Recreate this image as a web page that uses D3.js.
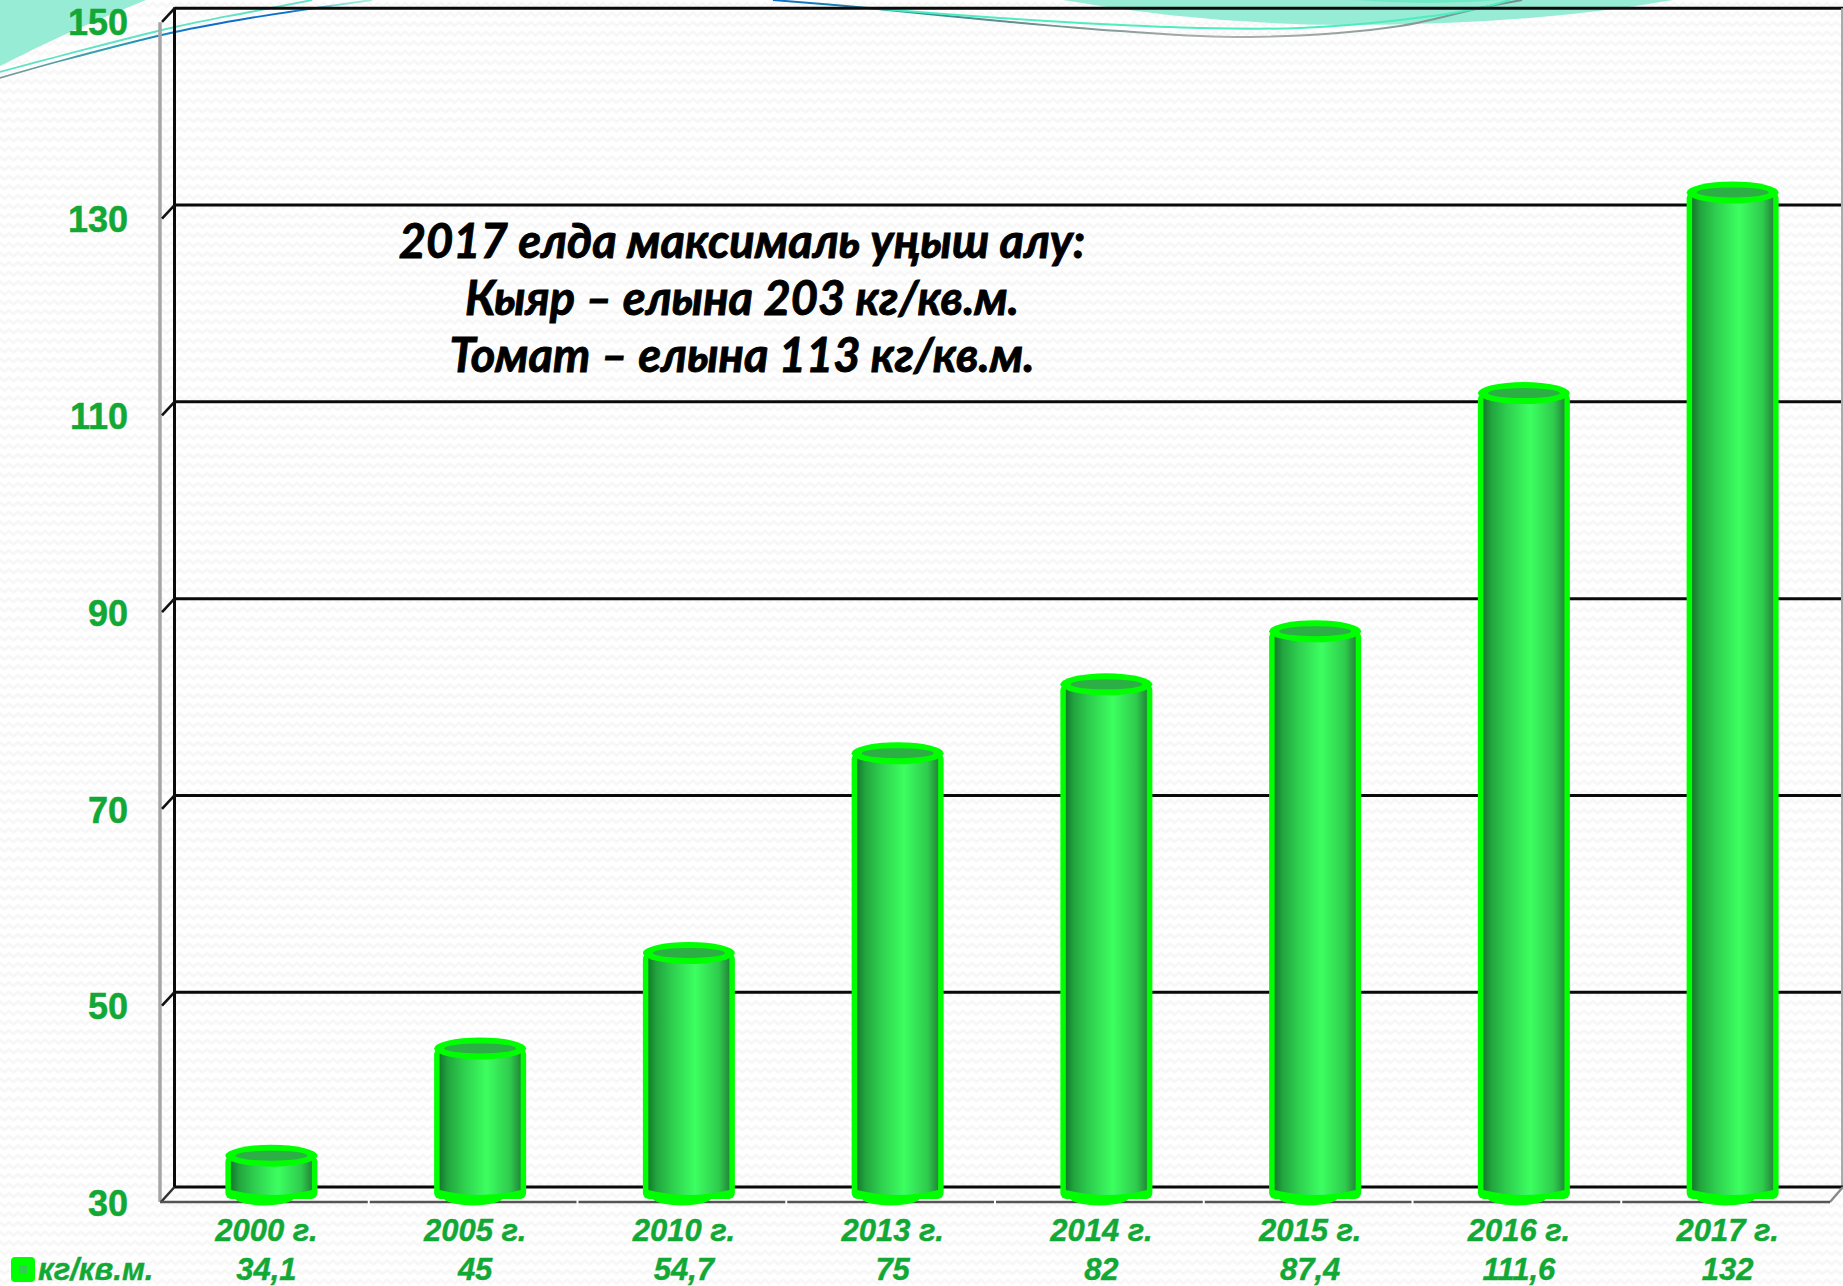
<!DOCTYPE html>
<html><head><meta charset="utf-8">
<script src="https://cdn.jsdelivr.net/npm/d3@7"></script>
<style>html,body{margin:0;padding:0;background:#fff;overflow:hidden}svg{display:block}</style>
</head><body><div id="c"></div>
<script>
const categories = ["2000 г.","2005 г.","2010 г.","2013 г.","2014 г.","2015 г.","2016 г.","2017 г."];
const values = [34.1,45,54.7,75,82,87.4,111.6,132];
const valueLabels = ["34,1","45","54,7","75","82","87,4","111,6","132"];
const yTicks = [30,50,70,90,110,130,150];
const seriesName = "кг/кв.м.";
const noteLines = ["2017 елда максималь уңыш алу:","Кыяр – елына 203 кг/кв.м.","Томат – елына 113 кг/кв.м."];

const W=1843,H=1286, dy=15;
const backL=174.5, frontL=160, frontR=1830, plotTop=8.3, plotBottom=1189, floorBack=1187, floorY=1202;
const GREEN="#12a836", LIME="#00ff00";
const svg=d3.select("#c").append("svg").attr("width",W).attr("height",H);
const defs=svg.append("defs");
const pat=defs.append("pattern").attr("id","wave").attr("width",18).attr("height",9.6).attr("patternUnits","userSpaceOnUse");
pat.append("rect").attr("width",18).attr("height",9.6).attr("fill","#fff");
pat.append("path").attr("d","M-4.5,6.8 L0,3 L4.5,6.8 L9,3 L13.5,6.8 L18,3 L22.5,6.8").attr("fill","none").attr("stroke","#f7f7f7").attr("stroke-width",2.6);
const grad=defs.append("linearGradient").attr("id","cyl");
[[0,"#137a2c"],[0.1,"#22a53e"],[0.3,"#2fd04f"],[0.58,"#3cff60"],[0.87,"#2fcb4d"],[1,"#23883a"]]
 .forEach(s=>grad.append("stop").attr("offset",s[0]).attr("stop-color",s[1]));
const lg1=defs.append("linearGradient").attr("id","ln1").attr("gradientUnits","userSpaceOnUse").attr("x1",0).attr("x2",372).attr("y1",0).attr("y2",0);
[[0,"#7a9a94"],[0.3,"#2b9fb0"],[0.55,"#0e6fc8"],[0.78,"#0e6fc8"],[0.9,"#7fdcd8"],[1,"#a8f0e0"]].forEach(s=>lg1.append("stop").attr("offset",s[0]).attr("stop-color",s[1]));
const lg2=defs.append("linearGradient").attr("id","ln2").attr("gradientUnits","userSpaceOnUse").attr("x1",770).attr("x2",1525).attr("y1",0).attr("y2",0);
[[0,"#0e6fc8"],[0.15,"#1a8fa0"],[0.35,"#6f8f8a"],[0.6,"#b0b0b0"],[1,"#6f8f8a"]].forEach(s=>lg2.append("stop").attr("offset",s[0]).attr("stop-color",s[1]));

svg.append("rect").attr("width",W).attr("height",H).attr("fill","url(#wave)");

// decorative slide background
const deco=svg.append("g");
deco.append("path").attr("fill","#96ecd4").attr("d","M0,0 L146,0 Q70,30 0,66 Z");
deco.append("path").attr("fill","#96ecd4").attr("d","M1063,0 Q1200,24 1345,25 Q1530,25 1673,0 Z");
deco.append("path").attr("fill","#6feac4").attr("d","M1356,0 Q1430,6 1500,0 Z");
const curve=d3.line().curve(d3.curveCatmullRom.alpha(0.5));
deco.append("path").attr("fill","none").attr("stroke","url(#ln1)").attr("stroke-width",1.8)
  .attr("d",curve([[0,78],[60,61],[175,32],[250,18],[372,0]]));
deco.append("path").attr("fill","none").attr("stroke","#5fe3c4").attr("stroke-width",1.8)
  .attr("d",curve([[0,72],[60,56],[175,27],[250,12],[312,0]]));
deco.append("path").attr("fill","none").attr("stroke","url(#ln2)").attr("stroke-width",2)
  .attr("d",curve([[773,0],[868,8],[1000,21],[1120,31],[1250,37],[1400,26],[1480,8],[1522,0]]));
deco.append("path").attr("fill","none").attr("stroke","#4fecc0").attr("stroke-width",2)
  .attr("d",curve([[868,8],[1000,18],[1100,24],[1200,28],[1300,28],[1400,20],[1480,8],[1510,0]]));

// scales
const y=d3.scaleLinear().domain([30,150]).range([plotBottom,plotTop]);
const x=d3.scaleBand().domain(categories).range([frontL,frontR]);
const c=d=>x(d)+x.bandwidth()/2+7;
const yb=v=>y(v)+7;
const baseY=1194;

// walls and gridlines
const grid=svg.append("g");
grid.selectAll("line.g").data(yTicks.slice(1)).join("line").attr("class","g")
 .attr("x1",backL).attr("x2",W).attr("y1",y).attr("y2",y).attr("stroke","#0a0a0a").attr("stroke-width",3);
grid.append("line").attr("x1",backL).attr("x2",backL).attr("y1",plotTop-1).attr("y2",floorBack).attr("stroke","#0a0a0a").attr("stroke-width",3);
grid.append("line").attr("x1",frontL).attr("x2",frontL).attr("y1",plotTop+14).attr("y2",floorY).attr("stroke","#a6a6a6").attr("stroke-width",3.5);
grid.append("line").attr("x1",1842).attr("x2",1842).attr("y1",plotTop).attr("y2",floorBack).attr("stroke","#aaa").attr("stroke-width",2);
grid.selectAll("line.d").data(yTicks.slice(1)).join("line").attr("class","d")
 .attr("x1",frontL+2).attr("x2",backL).attr("y1",d=>y(d)+13.5).attr("y2",y).attr("stroke","#111").attr("stroke-width",2.6);
grid.append("line").attr("x1",frontL+1).attr("x2",backL).attr("y1",floorY).attr("y2",floorBack).attr("stroke","#333").attr("stroke-width",2.6);
grid.append("line").attr("x1",backL).attr("x2",W).attr("y1",floorBack).attr("y2",floorBack).attr("stroke","#0a0a0a").attr("stroke-width",3);
grid.append("line").attr("x1",frontR).attr("x2",W).attr("y1",floorY).attr("y2",floorBack).attr("stroke","#888").attr("stroke-width",2.4);

// front floor edge and white column ticks
svg.append("line").attr("x1",frontL).attr("x2",frontR).attr("y1",floorY).attr("y2",floorY).attr("stroke","#555").attr("stroke-width",2.4);
svg.selectAll("line.t").data(categories.slice(1)).join("line").attr("class","t")
 .attr("x1",d=>x(d)).attr("x2",d=>x(d)).attr("y1",floorY-2).attr("y2",floorY+4).attr("stroke","#fff").attr("stroke-width",2);

// bars
const R=46, S=5.5;
const bars=svg.append("g").selectAll("g").data(categories.map((k,i)=>({k,v:values[i]}))).join("g");
bars.append("ellipse").attr("cx",d=>c(d.k)-7).attr("cy",baseY+3).attr("rx",30).attr("ry",8.5).attr("fill",LIME);
bars.append("rect").attr("x",d=>c(d.k)-R).attr("width",2*R).attr("y",d=>yb(d.v)).attr("height",d=>baseY+5-yb(d.v)).attr("rx",6).attr("fill",LIME);
bars.append("path").attr("fill","url(#cyl)")
 .attr("d",d=>{const a=c(d.k)-R+S,b=c(d.k)+R-S,t=yb(d.v)+4,e=baseY-4;
   return `M${a},${t} L${b},${t} L${b},${e} Q${c(d.k)},${e+10} ${a},${e} Z`;});
bars.append("ellipse").attr("cx",d=>c(d.k)).attr("cy",d=>yb(d.v)).attr("rx",R).attr("ry",11).attr("fill",LIME);
bars.append("ellipse").attr("cx",d=>c(d.k)).attr("cy",d=>yb(d.v)).attr("rx",36).attr("ry",5).attr("fill","#2caf45");

// y axis labels
const ax=svg.append("g").attr("transform",`translate(128,${dy-1})`)
  .call(d3.axisLeft(y).tickValues(yTicks).tickSize(0).tickPadding(0));
ax.select(".domain").remove();
ax.selectAll("text").attr("font-family","'Liberation Sans'").attr("font-weight",700).attr("font-size",36).attr("fill",GREEN).attr("stroke",GREEN).attr("stroke-width",0.5).attr("dy","0.35em");

// table: categories and values
const tf=sel=>sel.attr("font-family","'Liberation Sans'").attr("font-weight",700).attr("font-style","italic").attr("font-size",31).attr("fill",GREEN).attr("stroke",GREEN).attr("stroke-width",0.4);
const xa=svg.append("g").attr("transform",`translate(2,1241)`).call(d3.axisBottom(x).tickSize(0).tickPadding(0));
xa.select(".domain").remove();
xa.selectAll("text").call(tf).attr("dy",0).attr("y",0);
svg.append("g").selectAll("text").data(valueLabels).join("text").call(tf)
 .attr("x",(d,i)=>x(categories[i])+x.bandwidth()/2+2).attr("y",1280).attr("text-anchor","middle").text(d=>d);

// legend
svg.append("rect").attr("x",11).attr("y",1257).attr("width",24).attr("height",25).attr("rx",4).attr("fill",LIME);
svg.append("rect").attr("x",19).attr("y",1265).attr("width",8).attr("height",9).attr("fill","#2fd04f");
svg.append("text").call(tf).attr("x",38).attr("y",1280).text(seriesName);

// annotation
svg.append("g").selectAll("text").data(noteLines).join("text")
 .attr("x",742).attr("y",(d,i)=>258+i*57).attr("text-anchor","middle")
 .attr("font-family","Lato,'Open Sans','Noto Sans'").attr("font-weight",700).attr("font-style","italic").attr("font-size",47).attr("fill","#000").attr("stroke","#000").attr("stroke-width",0.9).text(d=>d);
</script></body></html>
